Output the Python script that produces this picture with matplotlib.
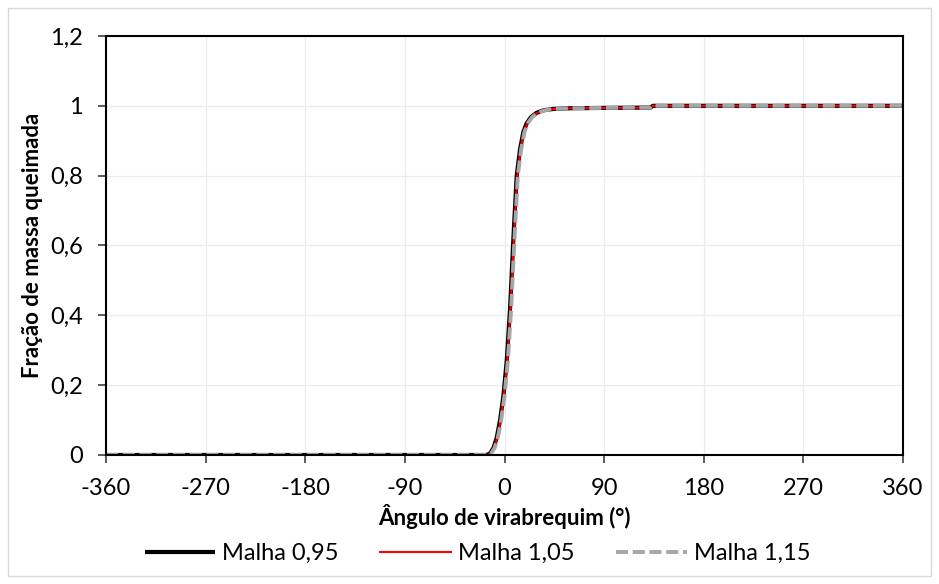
import matplotlib.pyplot as plt
from matplotlib.patches import Rectangle

# crank angle (deg) and burned mass fraction
ang_095 = [-360, -16, -13, -10, -7, -4, -1, 2, 5, 8, 11, 14, 17, 20, 24, 29, 35, 44, 59, 89, 132, 134, 360]
mfb_095 = [0, 0, 0.005, 0.02, 0.05, 0.1, 0.17, 0.27, 0.42, 0.62, 0.8, 0.875, 0.925, 0.95, 0.968, 0.98, 0.987, 0.991, 0.993, 0.994, 0.995, 1.0, 1.0]

ang_105 = [-360, -15.5, -12.5, -9.5, -6.5, -3.5, -0.5, 2.5, 5.5, 8.5, 11.5, 14.5, 17.5, 20.5, 24.5, 29.5, 35.5, 44.5, 59.5, 89.5, 132, 134, 360]
mfb_105 = [0, 0, 0.005, 0.02, 0.05, 0.1, 0.17, 0.27, 0.42, 0.62, 0.8, 0.875, 0.925, 0.95, 0.968, 0.98, 0.987, 0.991, 0.993, 0.994, 0.995, 1.0, 1.0]

ang_115 = [-360, -15, -12, -9, -6, -3, 0, 3, 6, 9, 12, 15, 18, 21, 25, 30, 36, 45, 60, 90, 132, 134, 360]
mfb_115 = [0, 0, 0.005, 0.02, 0.05, 0.1, 0.17, 0.27, 0.42, 0.62, 0.8, 0.875, 0.925, 0.95, 0.968, 0.98, 0.987, 0.991, 0.993, 0.994, 0.995, 1.0, 1.0]

xticks = [-360, -270, -180, -90, 0, 90, 180, 270, 360]
yticks = [0, 0.2, 0.4, 0.6, 0.8, 1.0, 1.2]
ylabels = ['0', '0,2', '0,4', '0,6', '0,8', '1', '1,2']

plt.rcParams['font.family'] = ['Lato', 'DejaVu Sans']

fig = plt.figure(figsize=(9.39, 5.84), dpi=100)
ax = fig.add_axes([0.1129, 0.2209, 0.8488, 0.7175])

# outer chart border
fig.patches.append(Rectangle((8/939, 8/584), 923/939, 568/584, transform=fig.transFigure,
                             fill=False, edgecolor='#d9d9d9', linewidth=1))

ax.plot(ang_095, mfb_095, color='black', lw=3.0, label='Malha 0,95', solid_capstyle='butt')
ax.plot(ang_105, mfb_105, color='#ff0000', lw=1.5, label='Malha 1,05')
ax.plot(ang_115, mfb_115, color='#a6a6a6', lw=2.8, ls=(0, (3.1, 1.2)), label='Malha 1,15',
        dash_capstyle='butt')

ax.set_xlim(-360, 360)
ax.set_ylim(0, 1.2)
ax.set_xticks(xticks)
ax.set_xticklabels([str(t) for t in xticks])
ax.set_yticks(yticks)
ax.set_yticklabels(ylabels)
ax.tick_params(labelsize=17, length=5.5, width=1.2, color='#404040', direction='out')
ax.tick_params(axis='x', pad=11)
ax.tick_params(axis='y', pad=11)

ax.grid(True, color='#ececec', lw=0.9)
ax.set_axisbelow(True)
for s in ax.spines.values():
    s.set_color('black')
    s.set_linewidth(1.5)

ax.set_xlabel('Ângulo de virabrequim (°)', fontsize=16, fontweight='bold', labelpad=4)
ax.set_ylabel('Fração de massa queimada', fontsize=16, fontweight='bold', labelpad=5)

ax.legend(loc='center', bbox_to_anchor=(0.5085, 0.052), bbox_transform=fig.transFigure,
          ncol=3, frameon=False, fontsize=17, handlelength=3.0, columnspacing=1.75,
          handletextpad=0.3, borderpad=0, borderaxespad=0)

fig.savefig('out.png', dpi=100)
